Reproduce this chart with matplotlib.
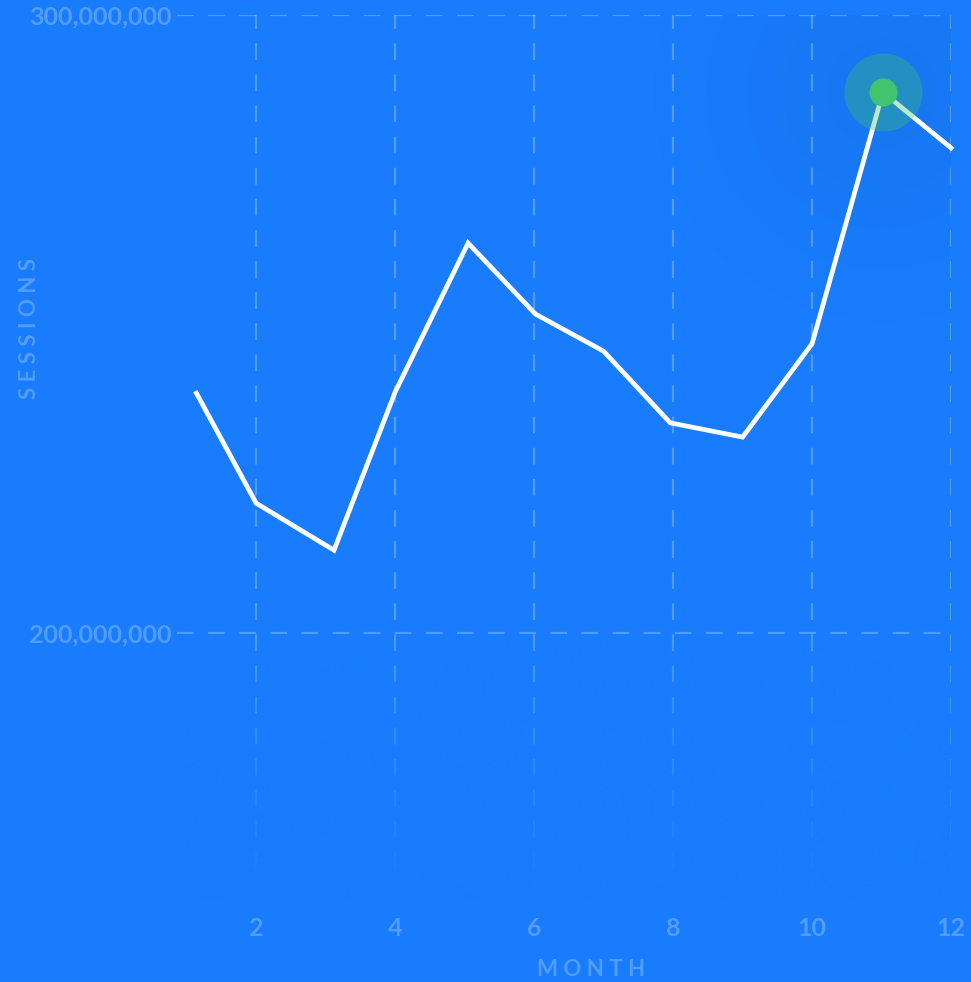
import numpy as np
import matplotlib
matplotlib.use("Agg")
import matplotlib.pyplot as plt
from matplotlib.colors import to_rgb

# ---- data ----
months = [1.14, 2.0, 3.12, 4.0, 5.05, 6.02, 7.0, 7.96, 9.0, 10.0, 11.02, 12.0]
sessions = [238.8e6, 221.0e6, 213.4e6, 239.0e6, 263.1e6, 251.6e6, 245.6e6,
            234.0e6, 231.7e6, 246.8e6, 287.5e6, 278.5e6]
x_ticks = [2, 4, 6, 8, 10, 12]
y_ticks = [200_000_000, 300_000_000]
y_tick_labels = ["200,000,000", "300,000,000"]
highlight_index = 10

BG = "#187cfc"
FAINT = (1, 1, 1, 0.25)
TXT = (1, 1, 1, 0.25)

plt.rcParams['font.family'] = ['Lato', 'DejaVu Sans']

fig = plt.figure(figsize=(9.71, 9.82), dpi=100, facecolor=BG)
W, H = 971, 982
left, right, top, bottom = 177, 951, 15, 900
ax = fig.add_axes([left / W, 1 - bottom / H, (right - left) / W, (bottom - top) / H])
ax.set_facecolor(BG)

xlim = (0.86, 12.0)
ylim = (156.8e6, 300e6)
ax.set_xlim(*xlim)
ax.set_ylim(*ylim)

for s in ax.spines.values():
    s.set_visible(False)

# gridlines
for xt in x_ticks:
    ax.axvline(xt, color=FAINT, lw=1.6, ls=(0, (7.5, 6.5)), zorder=1)
for yt in y_ticks:
    ax.axhline(yt, color=FAINT, lw=1.6, ls=(0, (7.5, 6.5)), zorder=1)

# fade overlay toward bottom
bg = np.array(to_rgb(BG))
n = 256
grad = np.zeros((n, 1, 4))
grad[:, 0, :3] = bg
yy = np.linspace(0, 1, n)  # 0 = bottom
alpha = np.clip((0.3 - yy) / 0.3, 0, 1) ** 0.7
grad[:, 0, 3] = alpha
ax.imshow(grad, extent=[xlim[0], xlim[1], ylim[0], ylim[1]], origin='lower',
          aspect='auto', zorder=2, interpolation='bilinear')

# dark radial glow near highlight
hx, hy = months[highlight_index], sessions[highlight_index]
gx = np.linspace(xlim[0], xlim[1], 400)
gy = np.linspace(ylim[0], ylim[1], 400)
GX, GY = np.meshgrid(gx, gy)
px_per_x = (right - left) / (xlim[1] - xlim[0])
px_per_y = (bottom - top) / (ylim[1] - ylim[0])
d = np.sqrt(((GX - hx) * px_per_x) ** 2 + ((GY - hy) * px_per_y) ** 2)
glow = np.zeros((400, 400, 4))
glow[..., :3] = np.array(to_rgb("#1560c8"))
glow[..., 3] = 0.22 * np.clip(1 - d / 240, 0, 1) ** 1.3
ax.imshow(glow, extent=[xlim[0], xlim[1], ylim[0], ylim[1]], origin='lower',
          aspect='auto', zorder=0.5, interpolation='bilinear')

# line
ax.plot(months, sessions, color="white", lw=3.4, zorder=3, solid_joinstyle='miter',
        clip_on=False)

# highlight point
ax.scatter([hx], [hy], s=3150, color="#3fbf6a", alpha=0.35, zorder=4, linewidths=0)
ax.scatter([hx], [hy], s=410, color="#42c36e", zorder=5, linewidths=0)

ax.set_xticks(x_ticks)
ax.set_xticklabels([str(v) for v in x_ticks])
ax.set_yticks(y_ticks)
ax.set_yticklabels(y_tick_labels)
ax.tick_params(axis='both', length=0, labelsize=18, labelcolor=TXT)
ax.tick_params(axis='x', pad=12)
ax.tick_params(axis='y', pad=4)
for lab in ax.get_xticklabels() + ax.get_yticklabels():
    lab.set_fontweight('bold')

fig.text(591 / W, 1 - 970 / H, "M O N T H", color=TXT, fontsize=16,
         fontweight='bold', ha='center', va='center')
fig.text(30 / W, 1 - 329 / H, "S E S S I O N S", color=TXT, fontsize=16,
         fontweight='bold', ha='center', va='center', rotation=90)

fig.savefig("out.png", dpi=100, facecolor=BG)
